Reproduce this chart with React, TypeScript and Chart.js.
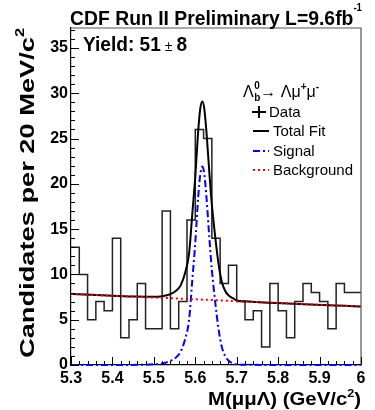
import { useEffect, useRef } from "react";
import { Chart, registerables } from "chart.js";

Chart.register(...registerables);

const FONT = "'Liberation Sans', Arial, Helvetica, sans-serif";

// Histogram: lower bin edges (20 MeV bins) and candidate counts
const binEdges = [
  5.30, 5.32, 5.34, 5.36, 5.38, 5.40, 5.42, 5.44, 5.46, 5.48,
  5.50, 5.52, 5.54, 5.56, 5.58, 5.60, 5.62, 5.64, 5.66, 5.68,
  5.70, 5.72, 5.74, 5.76, 5.78, 5.80, 5.82, 5.84, 5.86, 5.88,
  5.90, 5.92, 5.94, 5.96, 5.98,
];
const histEnd = 6.0;
const binCounts = [
  13, 10, 5, 7, 6, 14, 3, 5, 9, 4,
  4, 17, 4, 7, 16, 26, 25, 14, 9, 11,
  7, 5, 6, 2, 9, 6, 3, 7, 9, 8,
  7, 4, 9, 8, 8,
];

// Fit curves
const fitX = [
  5.30, 5.40, 5.46, 5.50, 5.52, 5.54, 5.555, 5.565, 5.575, 5.585,
  5.593, 5.60, 5.607, 5.612, 5.617, 5.622, 5.627, 5.634, 5.64, 5.648,
  5.656, 5.664, 5.672, 5.68, 5.69, 5.70, 5.72, 6.00,
];
const totalFit = [
  7.85, 7.65, 7.55, 7.53, 7.59, 7.82, 8.24, 8.82, 10.1, 12.3,
  16.8, 20.8, 25.8, 28.3, 29.1, 28.2, 25.7, 21.2, 17.7, 14.2,
  11.2, 9.2, 8.2, 7.7, 7.4, 7.13, 7.03, 6.45,
];
const signalFit = [
  0, 0, 0.02, 0.08, 0.18, 0.45, 0.9, 1.5, 2.8, 5.0,
  9.5, 13.5, 18.5, 21.0, 21.9, 21.0, 18.5, 14.0, 10.5, 7.0,
  4.0, 2.0, 1.0, 0.5, 0.2, 0.08, 0.02, 0,
];
const bgX = [5.3, 5.5, 5.7, 6.0];
const bgY = [7.85, 7.45, 7.05, 6.45];

// Axis ticks
const xTicks = [5.3, 5.4, 5.5, 5.6, 5.7, 5.8, 5.9, 6.0];
const xTickLabels = ["5.3", "5.4", "5.5", "5.6", "5.7", "5.8", "5.9", "6"];
const yTicks = [0, 5, 10, 15, 20, 25, 30, 35];
const yTickLabels = ["0", "5", "10", "15", "20", "25", "30", "35"];
const xMin = 5.3;
const xMax = 6.0;
const yMin = 0;
const yMax = 37.2;

type Seg = { t: string; size: number; bold?: boolean; dy?: number };

function fontOf(s: Seg) {
  return `${s.bold ? "bold " : ""}${s.size}px ${FONT}`;
}

function drawSegs(
  ctx: CanvasRenderingContext2D,
  segs: Seg[],
  x: number,
  y: number,
  width?: number,
  sy = 1,
  rotate = 0
) {
  ctx.save();
  const widths = segs.map((s) => {
    ctx.font = fontOf(s);
    return ctx.measureText(s.t).width;
  });
  const total = widths.reduce((a, b) => a + b, 0);
  const sx = width ? width / total : 1;
  ctx.translate(x, y);
  if (rotate) ctx.rotate(rotate);
  ctx.scale(sx, sy);
  ctx.textBaseline = "alphabetic";
  ctx.textAlign = "left";
  ctx.fillStyle = "#000";
  let cx = 0;
  segs.forEach((s, i) => {
    ctx.font = fontOf(s);
    ctx.fillText(s.t, cx, s.dy ?? 0);
    cx += widths[i];
  });
  ctx.restore();
}

const decorPlugin = {
  id: "decor",
  afterDatasetsDraw(chart: any) {
    const ctx: CanvasRenderingContext2D = chart.ctx;
    const xs = chart.scales.x;
    const ys = chart.scales.y;
    const { left, right, top, bottom } = chart.chartArea;

    ctx.save();
    // frame top / right
    ctx.strokeStyle = "#555";
    ctx.lineWidth = 1.2;
    ctx.beginPath();
    ctx.moveTo(left, top);
    ctx.lineTo(right, top);
    ctx.lineTo(right, bottom);
    ctx.stroke();

    // inner ticks
    ctx.strokeStyle = "#000";
    ctx.lineWidth = 1;
    ctx.beginPath();
    for (let i = 0; i <= 37; i++) {
      const py = Math.round(ys.getPixelForValue(i)) + 0.5;
      const len = i % 5 === 0 ? 8 : 4;
      ctx.moveTo(left, py);
      ctx.lineTo(left + len, py);
    }
    for (let i = 0; i <= 35; i++) {
      const v = xMin + i * 0.02;
      const px = Math.round(xs.getPixelForValue(v)) + 0.5;
      const len = i % 5 === 0 ? 8 : 4;
      ctx.moveTo(px, bottom);
      ctx.lineTo(px, bottom - len);
    }
    ctx.stroke();
    ctx.restore();

    // Title
    drawSegs(
      ctx,
      [
        { t: "CDF Run II Preliminary L=9.6fb", size: 20, bold: true },
        { t: "-1", size: 10, bold: true, dy: -13 },
      ],
      70,
      25,
      292,
      1.05
    );

    // Yield
    drawSegs(
      ctx,
      [
        { t: "Yield: 51", size: 19, bold: true },
        { t: " \u00b1 ", size: 14 },
        { t: "8", size: 19, bold: true },
      ],
      83,
      51,
      104,
      1.1
    );

    // Y axis title
    drawSegs(
      ctx,
      [
        { t: "Candidates per 20 MeV/c", size: 20, bold: true },
        { t: "2", size: 12, bold: true, dy: -10 },
      ],
      34,
      358,
      330,
      1,
      -Math.PI / 2
    );

    // X axis title
    drawSegs(
      ctx,
      [
        { t: "M(\u03bc\u03bc\u039b) (GeV/c", size: 18, bold: true },
        { t: "2", size: 11, bold: true, dy: -8 },
        { t: ")", size: 18, bold: true },
      ],
      208,
      405,
      153,
      1
    );

    // Legend header: Λb0 → Λ μ+ μ-
    ctx.save();
    ctx.fillStyle = "#000";
    ctx.textBaseline = "alphabetic";
    const base = 97;
    let cx = 243;
    ctx.font = `16px ${FONT}`;
    ctx.fillText("\u039b", cx, base);
    cx += ctx.measureText("\u039b").width + 0.5;
    ctx.font = `bold 10px ${FONT}`;
    ctx.fillText("b", cx, base + 4);
    ctx.fillText("0", cx, base - 8);
    cx += ctx.measureText("b").width;
    ctx.font = `16px ${FONT}`;
    ctx.fillText("\u2192 \u039b\u03bc", cx, base);
    cx += ctx.measureText("\u2192 \u039b\u03bc").width;
    ctx.font = `bold 10px ${FONT}`;
    ctx.fillText("+", cx, base - 7);
    cx += ctx.measureText("+").width;
    ctx.font = `16px ${FONT}`;
    ctx.fillText("\u03bc", cx, base);
    cx += ctx.measureText("\u03bc").width;
    ctx.font = `bold 10px ${FONT}`;
    ctx.fillText("-", cx, base - 7);

    // Legend entries
    ctx.font = `15px ${FONT}`;
    ctx.fillText("Data", 269, 117);
    ctx.fillText("Total Fit", 273, 136);
    ctx.fillText("Signal", 273, 156);
    ctx.fillText("Background", 273, 175);

    ctx.lineWidth = 2;
    ctx.strokeStyle = "#000";
    ctx.beginPath();
    ctx.moveTo(252, 112);
    ctx.lineTo(266, 112);
    ctx.moveTo(259, 106);
    ctx.lineTo(259, 118);
    ctx.stroke();

    ctx.beginPath();
    ctx.moveTo(253, 131);
    ctx.lineTo(269, 131);
    ctx.stroke();

    ctx.strokeStyle = "#0000ff";
    ctx.setLineDash([7, 3, 2, 3]);
    ctx.beginPath();
    ctx.moveTo(253, 151);
    ctx.lineTo(269, 151);
    ctx.stroke();

    ctx.strokeStyle = "#ff0000";
    ctx.setLineDash([2, 3]);
    ctx.beginPath();
    ctx.moveTo(253, 170);
    ctx.lineTo(269, 170);
    ctx.stroke();
    ctx.restore();
  },
};

export default function App() {
  const ref = useRef<HTMLCanvasElement | null>(null);

  useEffect(() => {
    document.body.style.margin = "0";
    const canvas = ref.current;
    if (!canvas) return;

    const histData = binEdges.map((x, i) => ({ x, y: binCounts[i] }));
    histData.push({ x: histEnd, y: binCounts[binCounts.length - 1] });

    const chart = new Chart(canvas, {
      type: "line",
      data: {
        datasets: [
          {
            label: "Background",
            data: bgX.map((x, i) => ({ x, y: bgY[i] })),
            borderColor: "#ff0000",
            borderWidth: 2,
            borderDash: [2, 3],
            pointRadius: 0,
            tension: 0,
            order: 1,
            clip: false,
          },
          {
            label: "Signal",
            data: fitX.map((x, i) => ({ x, y: signalFit[i] })),
            borderColor: "#0000ff",
            borderWidth: 2,
            borderDash: [7, 3, 2, 3],
            pointRadius: 0,
            cubicInterpolationMode: "monotone",
            order: 2,
            clip: false,
          },
          {
            label: "Total Fit",
            data: fitX.map((x, i) => ({ x, y: totalFit[i] })),
            borderColor: "#000",
            borderWidth: 2,
            pointRadius: 0,
            cubicInterpolationMode: "monotone",
            order: 3,
          },
          {
            label: "Data",
            data: histData,
            borderColor: "#222",
            borderWidth: 1.5,
            pointRadius: 0,
            stepped: true,
            order: 4,
          },
        ],
      },
      options: {
        animation: false,
        responsive: false,
        maintainAspectRatio: false,
        layout: { padding: { left: 0, top: 28, right: 14, bottom: 0 } },
        plugins: {
          legend: { display: false },
          tooltip: { enabled: false },
          title: { display: false },
        },
        scales: {
          x: {
            type: "linear",
            min: xMin,
            max: xMax,
            grid: { display: false, drawTicks: false },
            border: { display: true, color: "#000", width: 1.2 },
            afterBuildTicks: (axis: any) => {
              axis.ticks = xTicks.map((v) => ({ value: v }));
            },
            afterFit: (scale: any) => {
              scale.height = 45;
            },
            ticks: {
              autoSkip: false,
              maxRotation: 0,
              padding: 4,
              color: "#000",
              font: { family: FONT, size: 16, weight: "bold" },
              callback: (v: any) => {
                const i = xTicks.findIndex((t) => Math.abs(t - Number(v)) < 1e-6);
                return i >= 0 ? xTickLabels[i] : "";
              },
            },
          },
          y: {
            type: "linear",
            min: yMin,
            max: yMax,
            grid: { display: false, drawTicks: false },
            border: { display: true, color: "#000", width: 1.2 },
            afterBuildTicks: (axis: any) => {
              axis.ticks = yTicks.map((v) => ({ value: v }));
            },
            afterFit: (scale: any) => {
              scale.width = 71;
            },
            ticks: {
              autoSkip: false,
              padding: 3,
              color: "#000",
              font: { family: FONT, size: 16, weight: "bold" },
              callback: (v: any) => {
                const i = yTicks.findIndex((t) => Math.abs(t - Number(v)) < 1e-6);
                return i >= 0 ? yTickLabels[i] : "";
              },
            },
          },
        },
      },
      plugins: [decorPlugin],
    } as any);

    return () => chart.destroy();
  }, []);

  return (
    <div style={{ width: 375, height: 410, position: "relative", background: "#fff" }}>
      <canvas ref={ref} width={375} height={410} style={{ width: 375, height: 410, display: "block" }} />
    </div>
  );
}
